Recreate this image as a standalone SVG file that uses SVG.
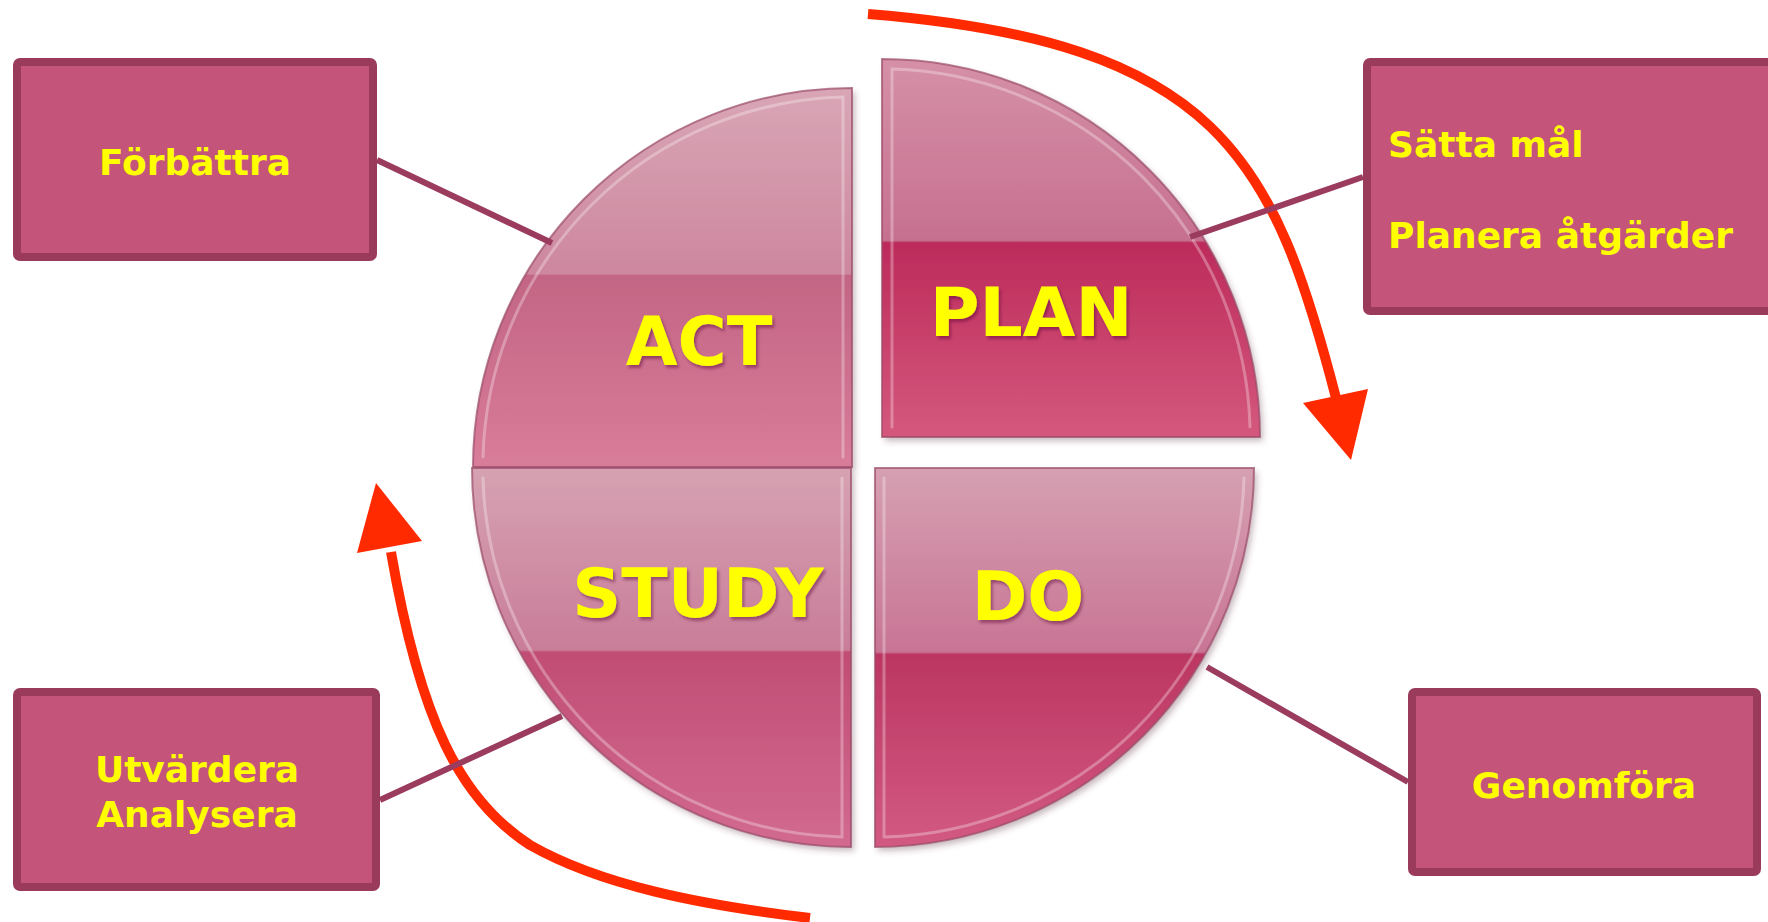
<svg xmlns="http://www.w3.org/2000/svg" width="1768" height="922" viewBox="0 0 1768 922">
  <style>
    .box { fill: #c4547a; stroke: #9b3b5b; stroke-width: 8; }
    .boxtext { font-family: "DejaVu Sans", Verdana, sans-serif; font-weight: bold; font-size: 36px; fill: #ffff00; }
    .qtext { font-family: "DejaVu Sans", Verdana, sans-serif; font-weight: bold; fill: #ffff00; text-anchor: middle; filter: url(#tshadow); }
    .link { stroke: #9b3b5e; stroke-width: 6; fill: none; }
    .cycle { stroke: #ff2a00; stroke-width: 10; fill: none; }
    .head { fill: #ff2a00; }
    .qedge { fill: none; stroke: #9a4a68; stroke-opacity: 0.7; stroke-width: 2; }
    .qhi { fill: none; stroke: #ffffff; stroke-opacity: 0.3; stroke-width: 3; stroke-linecap: round; }
  </style>
  <defs>
    <filter id="tshadow" x="-10%" y="-20%" width="130%" height="150%">
      <feDropShadow dx="2" dy="3" stdDeviation="1.5" flood-color="#5a1030" flood-opacity="0.45"/>
    </filter>
    <filter id="qshadow" x="-5%" y="-5%" width="115%" height="115%">
      <feDropShadow dx="3" dy="4" stdDeviation="3" flood-color="#603040" flood-opacity="0.35"/>
    </filter>
    <linearGradient id="gAct" gradientUnits="userSpaceOnUse" x1="0" y1="88" x2="0" y2="467">
      <stop offset="0" stop-color="#d9a6b6"/>
      <stop offset="0.49" stop-color="#cd879e"/>
      <stop offset="0.495" stop-color="#c36584"/>
      <stop offset="1" stop-color="#d87c9a"/>
    </linearGradient>
    <linearGradient id="gPlan" gradientUnits="userSpaceOnUse" x1="0" y1="59" x2="0" y2="437">
      <stop offset="0" stop-color="#d590a7"/>
      <stop offset="0.48" stop-color="#c6708f"/>
      <stop offset="0.486" stop-color="#bd2b5b"/>
      <stop offset="1" stop-color="#d4587e"/>
    </linearGradient>
    <linearGradient id="gStudy" gradientUnits="userSpaceOnUse" x1="0" y1="468" x2="0" y2="847">
      <stop offset="0" stop-color="#d6a2b2"/>
      <stop offset="0.48" stop-color="#c97d99"/>
      <stop offset="0.486" stop-color="#c14d74"/>
      <stop offset="1" stop-color="#d26a90"/>
    </linearGradient>
    <linearGradient id="gDo" gradientUnits="userSpaceOnUse" x1="0" y1="468" x2="0" y2="847">
      <stop offset="0" stop-color="#d6a0b2"/>
      <stop offset="0.485" stop-color="#c87594"/>
      <stop offset="0.492" stop-color="#bc3662"/>
      <stop offset="1" stop-color="#d25a82"/>
    </linearGradient>
  </defs>

  <rect width="1768" height="922" fill="#ffffff"/>

  <g id="act">
    <path d="M852,467 L473,467 A379,379 0 0 1 852,88 Z" fill="url(#gAct)" filter="url(#qshadow)"/>
    <path class="qedge" d="M852,467 L473,467 A379,379 0 0 1 852,88 Z"/>
    <path class="qhi" d="M483,457 A370,370 0 0 1 843,97 L843,457"/>
    <text class="qtext" x="699" y="365" font-size="67">ACT</text>
  </g>

  <g id="plan">
    <path d="M882,437 L882,59 A378,378 0 0 1 1260,437 Z" fill="url(#gPlan)" filter="url(#qshadow)"/>
    <path class="qedge" d="M882,437 L882,59 A378,378 0 0 1 1260,437 Z"/>
    <path class="qhi" d="M892,427 L892,69 A368,368 0 0 1 1250,427"/>
    <text class="qtext" x="1031" y="336" font-size="68">PLAN</text>
  </g>

  <g id="study">
    <path d="M851,468 L851,847 A379,379 0 0 1 472,468 Z" fill="url(#gStudy)" filter="url(#qshadow)"/>
    <path class="qedge" d="M851,468 L851,847 A379,379 0 0 1 472,468 Z"/>
    <path class="qhi" d="M483,478 A368,368 0 0 0 842,837 L842,478"/>
    <text class="qtext" x="698" y="617" font-size="68">STUDY</text>
  </g>

  <g id="do">
    <path d="M875,468 L1254,468 A379,379 0 0 1 875,847 Z" fill="url(#gDo)" filter="url(#qshadow)"/>
    <path class="qedge" d="M875,468 L1254,468 A379,379 0 0 1 875,847 Z"/>
    <path class="qhi" d="M884,837 L884,478 M1244,478 A369,369 0 0 1 884,837"/>
    <text class="qtext" x="1028" y="620" font-size="67">DO</text>
  </g>

  <g id="connectors">
    <path class="cycle" d="M868,14 C1218,42 1274,158 1336,398"/>
    <polygon class="head" points="1303,403 1368,389 1351,460"/>
    <path class="cycle" d="M810,918 C700,905 600,885 530,845 C460,800 420,720 391,552"/>
    <polygon class="head" points="357,553 422,541 376,483"/>
    <line class="link" x1="377" y1="160" x2="552" y2="243"/>
    <line class="link" x1="1363" y1="177" x2="1190" y2="237"/>
    <line class="link" x1="1207" y1="667" x2="1408" y2="782"/>
    <line class="link" x1="380" y1="800" x2="562" y2="716"/>
  </g>

  <g id="forbattra">
    <rect class="box" x="17" y="62" width="356" height="195" rx="3"/>
    <text class="boxtext" x="195" y="175" text-anchor="middle">Förbättra</text>
  </g>

  <g id="satta-mal">
    <rect class="box" x="1367" y="62" width="420" height="249" rx="3"/>
    <text class="boxtext" x="1388" y="157">Sätta mål</text>
    <text class="boxtext" x="1388" y="248">Planera åtgärder</text>
  </g>

  <g id="utvardera">
    <rect class="box" x="17" y="692" width="359" height="195" rx="3"/>
    <text class="boxtext" x="197" y="782" text-anchor="middle">Utvärdera</text>
    <text class="boxtext" x="197" y="827" text-anchor="middle">Analysera</text>
  </g>

  <g id="genomfora">
    <rect class="box" x="1412" y="692" width="345" height="180" rx="3"/>
    <text class="boxtext" x="1584" y="798" text-anchor="middle">Genomföra</text>
  </g>
</svg>
